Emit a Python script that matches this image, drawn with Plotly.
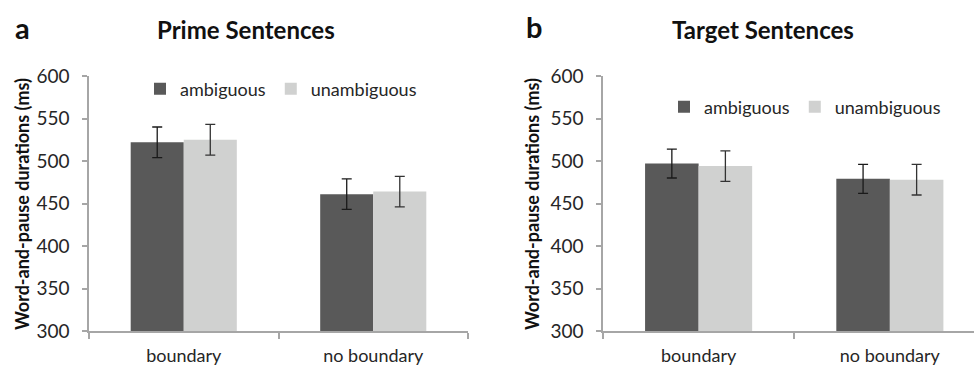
import plotly.graph_objects as go

categories = ["boundary", "no boundary"]
series_names = ["ambiguous", "unambiguous"]
prime_amb = [522, 461]
prime_unamb = [525, 464]
prime_amb_err = [18, 18]
prime_unamb_err = [18, 18]
target_amb = [497, 479]
target_unamb = [494, 478]
target_amb_err = [17, 17]
target_unamb_err = [18, 18]
yticks = [300, 350, 400, 450, 500, 550, 600]

DARK = "#595959"
LIGHT = "#d0d1d0"
FONT = "Lato"
TXT = "#262626"

fig = go.Figure()

def add(xa, ya, lg, vals, errs, name, color, err_color):
    fig.add_trace(go.Bar(
        x=categories, y=vals, name=name, marker=dict(color=color, line=dict(width=0)),
        error_y=dict(type="data", array=errs, color=err_color, thickness=1.3, width=5),
        xaxis=xa, yaxis=ya, legend=lg, offsetgroup=name,
    ))

add("x", "y", "legend", prime_amb, prime_amb_err, series_names[0], DARK, "#1a1a1a")
add("x", "y", "legend", prime_unamb, prime_unamb_err, series_names[1], LIGHT, "#333333")
add("x2", "y2", "legend2", target_amb, target_amb_err, series_names[0], DARK, "#1a1a1a")
add("x2", "y2", "legend2", target_unamb, target_unamb_err, series_names[1], LIGHT, "#333333")

W, H = 974, 366
yb = 1 - 331 / H
yt = 1 - 76 / H

axis_common = dict(showline=True, linecolor="#a6a6a6", linewidth=1.5, showgrid=False,
                   zeroline=False, ticks="outside", tickcolor="#a6a6a6", tickwidth=1.5,
                   automargin=False,
                   tickfont=dict(family=FONT, size=18, color=TXT))

xcommon = dict(axis_common, type="category", tickson="boundaries", ticklen=6,
               ticklabelstandoff=8)
ycommon = dict(axis_common, range=[300, 600], tickvals=yticks, ticklen=5,
               ticklabelstandoff=9)
ycommon["tickfont"] = dict(family=FONT, size=19, color=TXT)

legend_common = dict(orientation="h", font=dict(family=FONT, size=18, color=TXT),
                     bgcolor="rgba(0,0,0,0)", itemwidth=30, xanchor="center",
                     yanchor="middle", traceorder="normal", itemclick=False)

fig.update_layout(
    template="none",
    width=W, height=H, margin=dict(l=0, r=0, t=0, b=0, autoexpand=False),
    paper_bgcolor="white", plot_bgcolor="white",
    barmode="group", bargap=0.44, bargroupgap=0,
    xaxis=dict(xcommon, domain=[89 / W, 468 / W], range=[-0.5, 1.5], anchor="y"),
    yaxis=dict(ycommon, domain=[yb, yt], anchor="x"),
    xaxis2=dict(xcommon, domain=[603 / W, 1.0], range=[-0.5, 1.44], anchor="y2"),
    yaxis2=dict(ycommon, domain=[yb, yt], anchor="x2"),
    legend=dict(legend_common, x=281 / W, y=1 - 89 / H),
    legend2=dict(legend_common, x=805 / W, y=1 - 107 / H),
    showlegend=True,
)

annots = [
    dict(text="<b>a</b>", x=22 / W, y=1 - 28 / H, size=29),
    dict(text="<b>b</b>", x=534 / W, y=1 - 27 / H, size=29),
    dict(text="<b>Prime Sentences</b>", x=246 / W, y=1 - 30 / H, size=24),
    dict(text="<b>Target Sentences</b>", x=763 / W, y=1 - 30 / H, size=24),
]
for a in annots:
    fig.add_annotation(text=a["text"], x=a["x"], y=a["y"], xref="paper", yref="paper",
                       showarrow=False, xanchor="center", yanchor="middle",
                       font=dict(family=FONT, size=a["size"], color="#111111"))

for xc in [22 / W, 532 / W]:
    fig.add_annotation(text="<b>Word-and-pause durations (ms)</b>", x=xc, y=1 - 204 / H,
                       xref="paper", yref="paper", showarrow=False, textangle=-90,
                       xanchor="center", yanchor="middle",
                       font=dict(family=FONT, size=18, color="#111111"))

fig.write_html("out.html")
